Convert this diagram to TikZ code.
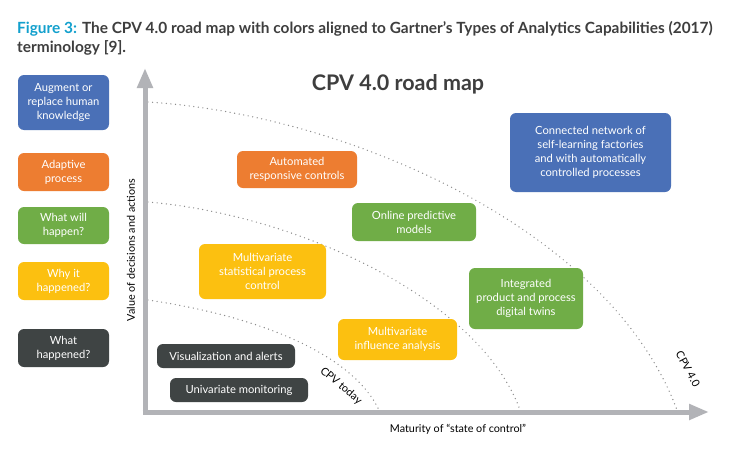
\documentclass[tikz,border=0pt]{standalone}
\usepackage{fontspec}
\setmainfont{Lato}
\newfontfamily\capfont{Lato}
\usetikzlibrary{arrows.meta}
\definecolor{cblue}{RGB}{74,112,183}
\definecolor{corange}{RGB}{237,125,49}
\definecolor{cgreen}{RGB}{112,173,71}
\definecolor{cyellow}{RGB}{252,192,16}
\definecolor{cdark}{RGB}{63,68,68}
\definecolor{axisgrey}{RGB}{178,179,183}
\definecolor{dotgrey}{RGB}{140,140,140}
\definecolor{capcyan}{RGB}{18,160,205}
\definecolor{captext}{RGB}{62,62,62}
\tikzset{
  box/.style={rounded corners=6pt, inner sep=0pt, align=center, text=white,
    font=\fontsize{11.2}{14}\selectfont},
  axis/.style={draw=axisgrey, line width=5pt, -{Triangle[length=20pt,width=15pt]}},
  arcline/.style={draw=dotgrey, line width=1.4pt, line cap=round, dash pattern=on 0pt off 4.6pt},
  lbl/.style={font=\fontsize{10.8}{12}\selectfont, text=black, inner sep=0pt},
}
\begin{document}
\begin{tikzpicture}[x=1pt,y=-1pt]
\useasboundingbox[fill=white] (0,0) rectangle (750,450);
% caption
\node[anchor=base west, inner sep=0pt, font=\capfont\bfseries\fontsize{15.4}{19}\selectfont, text=captext] (cap1) at (17,33)
  {\textcolor{capcyan}{Figure 3:} The CPV 4.0 road map with colors aligned to Gartner’s Types of Analytics Capabilities (2017)};
\node[anchor=base west, inner sep=0pt, font=\capfont\bfseries\fontsize{15.4}{19}\selectfont, text=captext] (cap2) at (17,52)
  {terminology [9].};
% title
\node[font=\bfseries\fontsize{21.5}{24}\selectfont, text=captext, inner sep=0pt] (title) at (398,84) {CPV 4.0 road map};
% legend
\node[box, fill=cblue, minimum width=91pt, minimum height=55pt] (aug) at (63.5,102.5) {Augment or\\replace human\\knowledge};
\node[box, fill=corange, minimum width=91pt, minimum height=38pt] (adapt) at (63.5,172) {Adaptive\\process};
\node[box, fill=cgreen, minimum width=91pt, minimum height=37pt] (will) at (63.5,225.5) {What will\\happen?};
\node[box, fill=cyellow, minimum width=91pt, minimum height=38pt] (why) at (63.5,281) {Why it\\happened?};
\node[box, fill=cdark, minimum width=91pt, minimum height=38pt] (hap) at (63.5,348) {What\\happened?};
% arcs
\coordinate (o) at (145,412);
\coordinate (a1s) at (148,102); \coordinate (a1e) at (677,410);
\coordinate (a2s) at (148,202); \coordinate (a2e) at (520,410);
\coordinate (a3s) at (148,300); \coordinate (a3e) at (379,410);
\draw[arcline] (a1s) .. controls (350,115) and (610,230) .. (a1e);
\draw[arcline] (a2s) .. controls (300,215) and (480,300) .. (a2e);
\draw[arcline] (a3s) .. controls (250,315) and (350,350) .. (a3e);
% axes
\coordinate (ytip) at (145,68);
\coordinate (xtip) at (709,412);
\draw[axis] (145,414.5) -- (ytip);
\draw[axis] (142.5,412) -- (xtip);
% axis labels
\node[lbl, rotate=90] (ylab) at (131,250) {Value of decisions and actions};
\node[lbl] (xlab) at (458,429) {Maturity of “state of control”};
\node[lbl, rotate=-40] (today) at (341,386) {CPV today};
\node[lbl, rotate=-62] (four) at (688,369) {CPV 4.0};
% chart boxes
\node[box, fill=corange, minimum width=120pt, minimum height=37pt] (auto) at (297,169.5) {Automated\\responsive controls};
\node[box, fill=cblue, minimum width=161pt, minimum height=79pt] (conn) at (590.5,152.5) {Connected network of\\self-learning factories\\and with automatically\\controlled processes};
\node[box, fill=cgreen, minimum width=124pt, minimum height=38pt] (online) at (414,222) {Online predictive\\models};
\node[box, fill=cyellow, minimum width=127pt, minimum height=55pt] (mspc) at (262.5,271.5) {Multivariate\\statistical process\\control};
\node[box, fill=cgreen, minimum width=114pt, minimum height=61pt] (twin) at (526,298.5) {Integrated\\product and process\\digital twins};
\node[box, fill=cyellow, minimum width=119pt, minimum height=41pt] (infl) at (397.5,339.5) {Multivariate\\influence analysis};
\node[box, fill=cdark, minimum width=138pt, minimum height=24pt] (vis) at (226,356) {Visualization and alerts};
\node[box, fill=cdark, minimum width=138pt, minimum height=24pt] (uni) at (239,390) {Univariate monitoring};
\end{tikzpicture}
\end{document}
